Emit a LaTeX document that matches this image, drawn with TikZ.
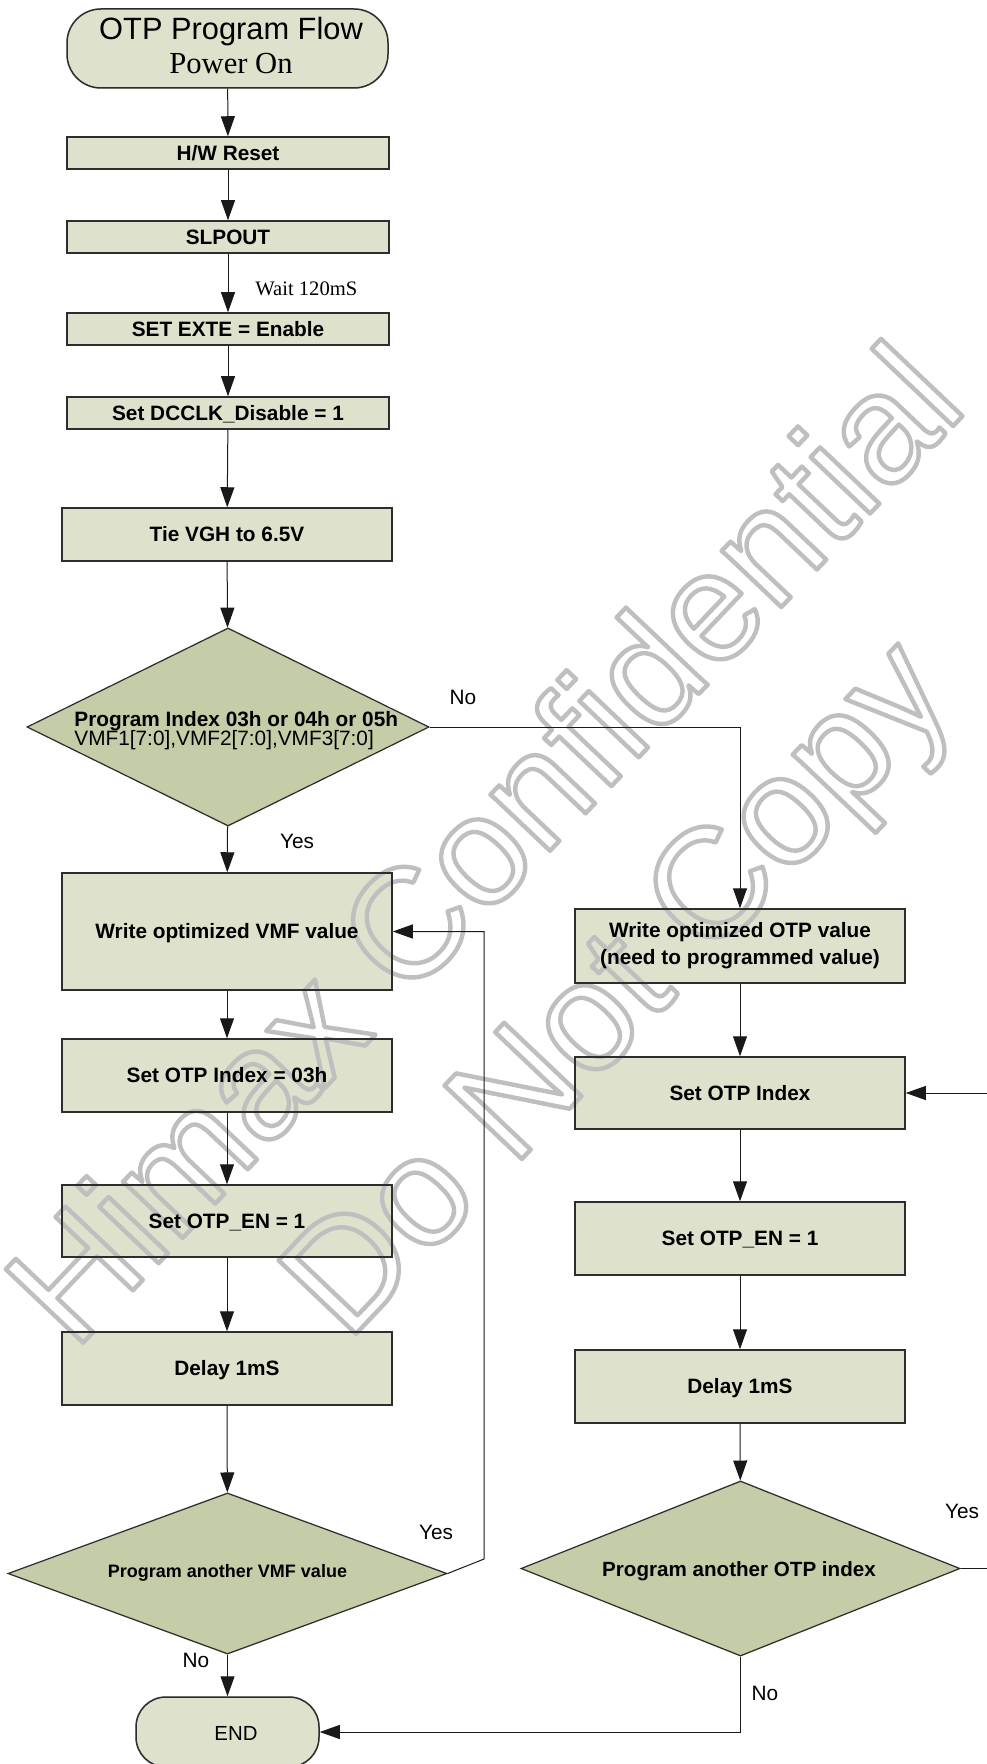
\documentclass[tikz,border=0pt]{standalone}
\usepackage{fontspec}
\setmainfont{Liberation Sans}
\newfontfamily\serifft{Liberation Serif}
\usetikzlibrary{arrows.meta,shapes.geometric}
\definecolor{boxfill}{RGB}{222,226,204}
\definecolor{diafill}{RGB}{197,205,168}
\definecolor{edgecol}{RGB}{45,45,45}
\definecolor{linecol}{RGB}{25,25,25}
\definecolor{wmgray}{RGB}{190,190,190}
\newcommand\wmOutlineOn{\special{pdf:literal direct 1 Tr 2.2 w 1 j 0.75 G}}
\newcommand\wmOutlineOff{\special{pdf:literal direct 0 Tr}}
\pgfdeclarelayer{bgfill}
\pgfdeclarelayer{wmk}
\pgfsetlayers{bgfill,wmk,main}
\begin{document}
\begin{tikzpicture}[x=0.5pt,y=-0.5pt,
  basebox/.style={draw=edgecol, line width=0.75pt, rectangle, inner sep=0pt,
    font=\fontsize{10.4}{13.5}\selectfont\bfseries},
  stepbox/.style={basebox, text height=7.45pt, text depth=0pt},
  termbox/.style={draw=edgecol, line width=0.75pt, rectangle, inner sep=0pt},
  diabox/.style={diamond, draw=edgecol, line width=0.6pt, inner sep=0pt},
  conn/.style={draw=linecol, line width=0.5pt, -{Triangle[length=10pt,width=7pt]}},
  lbl/.style={font=\fontsize{10.4}{12}\selectfont, inner sep=0pt},
  wm/.style={font=\fontsize{77.5}{80}\selectfont, text=wmgray, inner sep=0pt, rotate=46.5}
]
\useasboundingbox (0,0) rectangle (986,1764);

% start terminal
\node[termbox, rounded corners=17pt, minimum width=160.5pt, minimum height=39.5pt] (start) at (227.5,48.5) {};
\node[anchor=base, font=\fontsize{15.4}{18}\selectfont, inner sep=0pt] (t1) at (231,40) {OTP Program Flow};
\node[anchor=base, font=\serifft\fontsize{15.3}{18}\selectfont, inner sep=0pt] (t2) at (231,74) {Power On};

% left column
\node[stepbox, minimum width=161pt, minimum height=16pt] (hw) at (228,153) {H/W Reset};
\node[stepbox, minimum width=161pt, minimum height=16pt] (slp) at (228,237) {SLPOUT};
\node[stepbox, minimum width=161pt, minimum height=16pt] (exte) at (228,329) {SET EXTE = Enable};
\node[stepbox, minimum width=161pt, minimum height=16pt] (dcclk) at (228,413) {Set DCCLK\_Disable = 1};
\node[stepbox, minimum width=165pt, minimum height=26.5pt] (tie) at (227,534.5) {Tie VGH to 6.5V};

\node[diabox, minimum width=201pt, minimum height=99pt] (d1) at (228,727) {};
\node[anchor=base west, font=\fontsize{10.4}{12}\selectfont\bfseries, inner sep=0pt] (d1a) at (74,726) {Program Index 03h or 04h or 05h};
\node[anchor=base west, font=\fontsize{10.4}{12}\selectfont, inner sep=0pt] (d1b) at (74,745) {VMF1[7:0],VMF2[7:0],VMF3[7:0]};

\node[stepbox, minimum width=165pt, minimum height=58.5pt] (vmf) at (227,931.5) {Write optimized VMF value};
\node[stepbox, minimum width=165pt, minimum height=36.5pt] (idxa) at (227,1075.5) {Set OTP Index = 03h};
\node[stepbox, minimum width=165pt, minimum height=36pt] (ena) at (227,1221) {Set OTP\_EN = 1};
\node[stepbox, minimum width=165pt, minimum height=36.5pt] (dlya) at (227,1368.5) {Delay 1mS};

\node[diabox, minimum width=219.5pt, minimum height=80.5pt] (d2) at (227.5,1573.5) {};
\node[anchor=base, font=\fontsize{9}{11}\selectfont\bfseries, inner sep=0pt] (d2t) at (227.5,1577) {Program another VMF value};

\node[termbox, rounded corners=15pt, minimum width=91.5pt, minimum height=35pt] (endn) at (227.5,1732) {};
\node[anchor=base, font=\fontsize{10.2}{12}\selectfont, inner sep=0pt] (endt) at (236,1740) {END};

% right column
\node[basebox, align=center, minimum width=165pt, minimum height=37pt] (otp) at (740,946) {Write optimized OTP value\\(need to programmed value)};
\node[stepbox, minimum width=165pt, minimum height=36pt] (idxb) at (740,1093) {Set OTP Index};
\node[stepbox, minimum width=165pt, minimum height=36.5pt] (enb) at (740,1238.5) {Set OTP\_EN = 1};
\node[stepbox, minimum width=165pt, minimum height=36.5pt] (dlyb) at (740,1386.5) {Delay 1mS};

\node[diabox, minimum width=219.5pt, minimum height=87.5pt] (d3) at (740.5,1568.5) {};
\node[anchor=base, font=\fontsize{10.3}{12}\selectfont\bfseries, inner sep=0pt] (d3t) at (739,1576) {Program another OTP index};

% fills behind everything
\begin{pgfonlayer}{bgfill}
\fill[white] (0,0) rectangle (986,1764);
\foreach \n in {hw,slp,exte,dcclk,tie,vmf,idxa,ena,dlya,otp,idxb,enb,dlyb}
  \fill[boxfill] (\n.north west) rectangle (\n.south east);
\fill[boxfill, rounded corners=17pt] (start.north west) rectangle (start.south east);
\fill[boxfill, rounded corners=15pt] (endn.north west) rectangle (endn.south east);
\foreach \n in {d1,d2,d3}
  \fill[diafill] (\n.north) -- (\n.east) -- (\n.south) -- (\n.west) -- cycle;
\end{pgfonlayer}

% helper coordinates
\coordinate (c1) at (484,1559);
\coordinate (r1) at (1000,1568.5);

% connectors left
\draw[conn] (start) -- (hw);
\draw[conn] (hw) -- (slp);
\draw[conn] (slp) -- (exte);
\draw[conn] (exte) -- (dcclk);
\draw[conn] (dcclk) -- (tie);
\draw[conn] (tie) -- (d1);
\draw[conn] (d1) -- (vmf);
\draw[conn] (vmf) -- (idxa);
\draw[conn] (idxa) -- (ena);
\draw[conn] (ena) -- (dlya);
\draw[conn] (dlya) -- (d2);
\draw[conn] (d2) -- (endn);
\draw[conn] (d2.east) -- (c1) |- (vmf.east);
\draw[conn] (d1.east) -| (otp.north);

% connectors right
\draw[conn] (otp) -- (idxb);
\draw[conn] (idxb) -- (enb);
\draw[conn] (enb) -- (dlyb);
\draw[conn] (dlyb) -- (d3);
\draw[conn] (d3.east) -- (r1) |- (idxb.east);
\draw[conn] (d3.south) |- (endn.east);

% labels
\node[anchor=base west, font=\serifft\fontsize{10.3}{12}\selectfont, inner sep=0pt] (wait) at (255,296) {Wait 120mS};
\node[lbl] (l1) at (463,697) {No};
\node[lbl] (l2) at (297,841) {Yes};
\node[lbl] (l3) at (436,1532) {Yes};
\node[lbl] (l4) at (196,1660) {No};
\node[lbl] (l5) at (962,1511) {Yes};
\node[lbl] (l6) at (765,1693) {No};

% watermark
\begin{pgfonlayer}{wmk}
\node[wm] (wm1) at (482,842) {\wmOutlineOn Himax Confidential\wmOutlineOff};
\node[wm] (wm2) at (625,995) {\wmOutlineOn Do Not Copy\wmOutlineOff};
\end{pgfonlayer}
\end{tikzpicture}
\end{document}
